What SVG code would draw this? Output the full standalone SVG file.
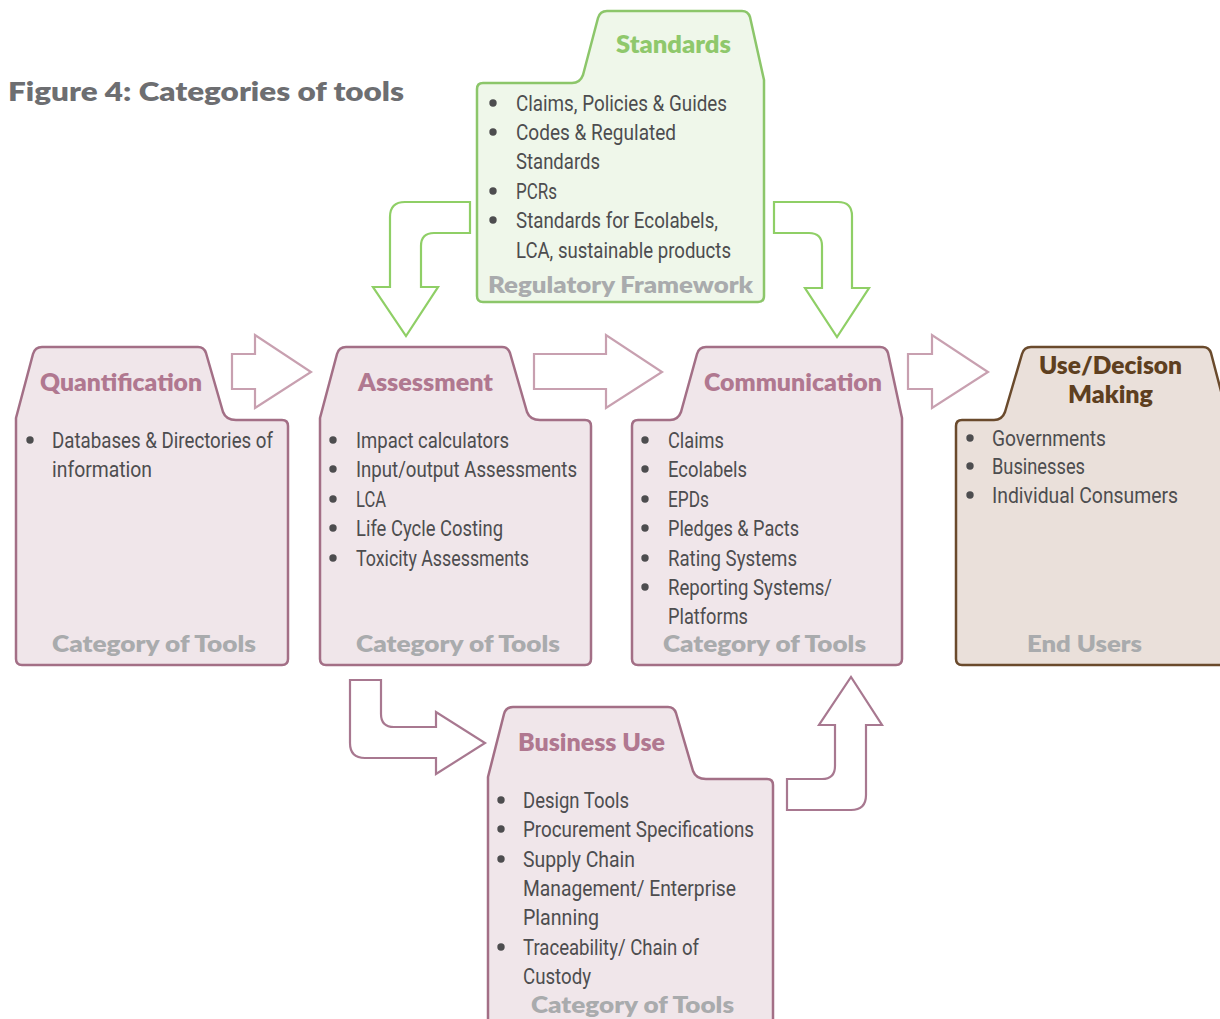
<svg xmlns="http://www.w3.org/2000/svg" width="1220" height="1019" viewBox="0 0 1220 1019">
<style>
.fp{fill:#f0e6ea;stroke:#a36f86;stroke-width:2.5;stroke-linejoin:round}
.fg{fill:#eff7ea;stroke:#8cc66a;stroke-width:2.5;stroke-linejoin:round}
.fb{fill:#eae0da;stroke:#6a4a2c;stroke-width:2.5;stroke-linejoin:round}
.t{font-family:"Lato","Liberation Sans",sans-serif;font-weight:800;font-size:24px}
.tp{fill:#b07890}.tg{fill:#8fc86c}.tb{fill:#5e3f20}
.b{font-family:"Roboto","Liberation Sans",sans-serif;font-size:22px;fill:#4d4d4f}
.g{font-family:"Lato","Liberation Sans",sans-serif;font-weight:800;font-size:23px;fill:#a9abad}
.d{fill:#4d4d4f}
.ap{fill:none;stroke:#c8a0b0;stroke-width:2.2;stroke-linejoin:miter}
.ab{fill:none;stroke:#a87890;stroke-width:2.2;stroke-linejoin:miter}
.ag{fill:none;stroke:#8fcf66;stroke-width:2.2;stroke-linejoin:miter}
</style>
<rect width="1220" height="1019" fill="#ffffff"/>
<text x="8" y="101" font-family="Lato, 'Liberation Sans', sans-serif" font-weight="800" font-size="27" fill="#6d6e71" textLength="396" lengthAdjust="spacingAndGlyphs">Figure 4: Categories of tools</text>

<g id="connectors">
<path class="ag" d="M470,202 H405 Q390,202 390,217 V287 H373 L406,336 L438,287 H421 V246 Q421,233 434,233 H470 Z"/>
<path class="ag" d="M774,202 H838 Q852,202 852,216 V288 H869 L837,337 L805,288 H822 V246 Q822,233 809,233 H774 Z"/>
<path class="ap" d="M232,354 H255 V335 L311,372 L255,408 V389 H232 Z"/>
<path class="ap" d="M534,354 H606 V335 L662,372 L606,408 V389 H534 Z"/>
<path class="ap" d="M908,354 H932 V335 L988,372 L932,408 V389 H908 Z"/>
<path class="ab" d="M350,680 H381 V714 Q381,727 394,727 H436 V712 L485,743 L436,774 V758 H365 Q350,758 350,743 Z"/>
<path class="ab" d="M787,810 V779 H822 Q835,779 835,766 V725 H819 L851,677 L882,725 H866 V795 Q866,810 851,810 Z"/>
</g>

<g id="standards">
<path class="fg" d="M483,302 Q477,302 477,296 V89 Q477,83 483,83 H572 Q580,83 583,75 L598,18 Q600,11 607,11 H742 Q748,11 750,17 L764,80 V296 Q764,302 758,302 Z"/>
<text class="t tg" x="616" y="53" textLength="115" lengthAdjust="spacingAndGlyphs">Standards</text>
<circle class="d" cx="493" cy="103" r="3.7"/>
<circle class="d" cx="493" cy="132" r="3.7"/>
<circle class="d" cx="493" cy="191" r="3.7"/>
<circle class="d" cx="493" cy="220" r="3.7"/>
<text class="b" x="516" y="111" textLength="211" lengthAdjust="spacingAndGlyphs">Claims, Policies &amp; Guides</text>
<text class="b" x="516" y="140" textLength="160" lengthAdjust="spacingAndGlyphs">Codes &amp; Regulated</text>
<text class="b" x="516" y="169" textLength="84" lengthAdjust="spacingAndGlyphs">Standards</text>
<text class="b" x="516" y="199" textLength="41" lengthAdjust="spacingAndGlyphs">PCRs</text>
<text class="b" x="516" y="228" textLength="202" lengthAdjust="spacingAndGlyphs">Standards for Ecolabels,</text>
<text class="b" x="516" y="258" textLength="215" lengthAdjust="spacingAndGlyphs">LCA, sustainable products</text>
<text class="g" x="488" y="293" textLength="265" lengthAdjust="spacingAndGlyphs">Regulatory Framework</text>
</g>

<g id="quantification">
<path class="fp" d="M22,665 Q16,665 16,659 V418 L33,354 Q35,347 42,347 H198 Q204,347 206,353 L223,412 Q226,420 236,420 H282 Q288,420 288,426 V659 Q288,665 282,665 Z"/>
<text class="t tp" x="40" y="391" textLength="162" lengthAdjust="spacingAndGlyphs">Quantification</text>
<circle class="d" cx="30" cy="440" r="3.7"/>
<text class="b" x="52" y="448" textLength="221" lengthAdjust="spacingAndGlyphs">Databases &amp; Directories of</text>
<text class="b" x="52" y="477" textLength="100" lengthAdjust="spacingAndGlyphs">information</text>
<text class="g" x="52" y="652" textLength="204" lengthAdjust="spacingAndGlyphs">Category of Tools</text>
</g>

<g id="assessment">
<path class="fp" d="M326,665 Q320,665 320,659 V418 L337,354 Q339,347 346,347 H502 Q508,347 510,353 L527,412 Q530,420 540,420 H585 Q591,420 591,426 V659 Q591,665 585,665 Z"/>
<text class="t tp" x="358" y="391" textLength="135" lengthAdjust="spacingAndGlyphs">Assessment</text>
<circle class="d" cx="333" cy="440" r="3.7"/>
<circle class="d" cx="333" cy="469" r="3.7"/>
<circle class="d" cx="333" cy="499" r="3.7"/>
<circle class="d" cx="333" cy="528" r="3.7"/>
<circle class="d" cx="333" cy="558" r="3.7"/>
<text class="b" x="356" y="448" textLength="153" lengthAdjust="spacingAndGlyphs">Impact calculators</text>
<text class="b" x="356" y="477" textLength="221" lengthAdjust="spacingAndGlyphs">Input/output Assessments</text>
<text class="b" x="356" y="507" textLength="30" lengthAdjust="spacingAndGlyphs">LCA</text>
<text class="b" x="356" y="536" textLength="147" lengthAdjust="spacingAndGlyphs">Life Cycle Costing</text>
<text class="b" x="356" y="566" textLength="173" lengthAdjust="spacingAndGlyphs">Toxicity Assessments</text>
<text class="g" x="356" y="652" textLength="204" lengthAdjust="spacingAndGlyphs">Category of Tools</text>
</g>

<g id="communication">
<path class="fp" d="M638,665 Q632,665 632,659 V426 Q632,420 638,420 H670 Q678,420 681,412 L697,354 Q699,347 706,347 H880 Q886,347 888,353 L902,418 V659 Q902,665 896,665 Z"/>
<text class="t tp" x="704" y="391" textLength="178" lengthAdjust="spacingAndGlyphs">Communication</text>
<circle class="d" cx="645" cy="440" r="3.7"/>
<circle class="d" cx="645" cy="469" r="3.7"/>
<circle class="d" cx="645" cy="499" r="3.7"/>
<circle class="d" cx="645" cy="528" r="3.7"/>
<circle class="d" cx="645" cy="558" r="3.7"/>
<circle class="d" cx="645" cy="587" r="3.7"/>
<text class="b" x="668" y="448" textLength="56" lengthAdjust="spacingAndGlyphs">Claims</text>
<text class="b" x="668" y="477" textLength="79" lengthAdjust="spacingAndGlyphs">Ecolabels</text>
<text class="b" x="668" y="507" textLength="41" lengthAdjust="spacingAndGlyphs">EPDs</text>
<text class="b" x="668" y="536" textLength="131" lengthAdjust="spacingAndGlyphs">Pledges &amp; Pacts</text>
<text class="b" x="668" y="566" textLength="129" lengthAdjust="spacingAndGlyphs">Rating Systems</text>
<text class="b" x="668" y="595" textLength="164" lengthAdjust="spacingAndGlyphs">Reporting Systems/</text>
<text class="b" x="668" y="624" textLength="80" lengthAdjust="spacingAndGlyphs">Platforms</text>
<text class="g" x="663" y="652" textLength="203" lengthAdjust="spacingAndGlyphs">Category of Tools</text>
</g>

<g id="use-decision">
<path class="fb" d="M962,665 Q956,665 956,659 V426 Q956,420 962,420 H994 Q1002,420 1005,412 L1022,354 Q1024,347 1031,347 H1203 Q1209,347 1211,353 L1228,418 V665 Z"/>
<text class="t tb" x="1039" y="374" textLength="143" lengthAdjust="spacingAndGlyphs">Use/Decison</text>
<text class="t tb" x="1068" y="403" textLength="85" lengthAdjust="spacingAndGlyphs">Making</text>
<circle class="d" cx="970" cy="438" r="3.7"/>
<circle class="d" cx="970" cy="466" r="3.7"/>
<circle class="d" cx="970" cy="495" r="3.7"/>
<text class="b" x="992" y="446" textLength="114" lengthAdjust="spacingAndGlyphs">Governments</text>
<text class="b" x="992" y="474" textLength="93" lengthAdjust="spacingAndGlyphs">Businesses</text>
<text class="b" x="992" y="503" textLength="186" lengthAdjust="spacingAndGlyphs">Individual Consumers</text>
<text class="g" x="1027" y="652" textLength="115" lengthAdjust="spacingAndGlyphs">End Users</text>
</g>

<g id="business-use">
<path class="fp" d="M488,1030 V777 L504,714 Q506,707 513,707 H668 Q674,707 676,713 L693,771 Q696,779 706,779 H767 Q773,779 773,785 V1030"/>
<text class="t tp" x="518" y="751" textLength="147" lengthAdjust="spacingAndGlyphs">Business Use</text>
<circle class="d" cx="501" cy="800" r="3.7"/>
<circle class="d" cx="501" cy="829" r="3.7"/>
<circle class="d" cx="501" cy="859" r="3.7"/>
<circle class="d" cx="501" cy="947" r="3.7"/>
<text class="b" x="523" y="808" textLength="106" lengthAdjust="spacingAndGlyphs">Design Tools</text>
<text class="b" x="523" y="837" textLength="231" lengthAdjust="spacingAndGlyphs">Procurement Specifications</text>
<text class="b" x="523" y="867" textLength="112" lengthAdjust="spacingAndGlyphs">Supply Chain</text>
<text class="b" x="523" y="896" textLength="213" lengthAdjust="spacingAndGlyphs">Management/ Enterprise</text>
<text class="b" x="523" y="925" textLength="76" lengthAdjust="spacingAndGlyphs">Planning</text>
<text class="b" x="523" y="955" textLength="176" lengthAdjust="spacingAndGlyphs">Traceability/ Chain of</text>
<text class="b" x="523" y="984" textLength="68" lengthAdjust="spacingAndGlyphs">Custody</text>
<text class="g" x="531" y="1013" textLength="203" lengthAdjust="spacingAndGlyphs">Category of Tools</text>
</g>
</svg>
